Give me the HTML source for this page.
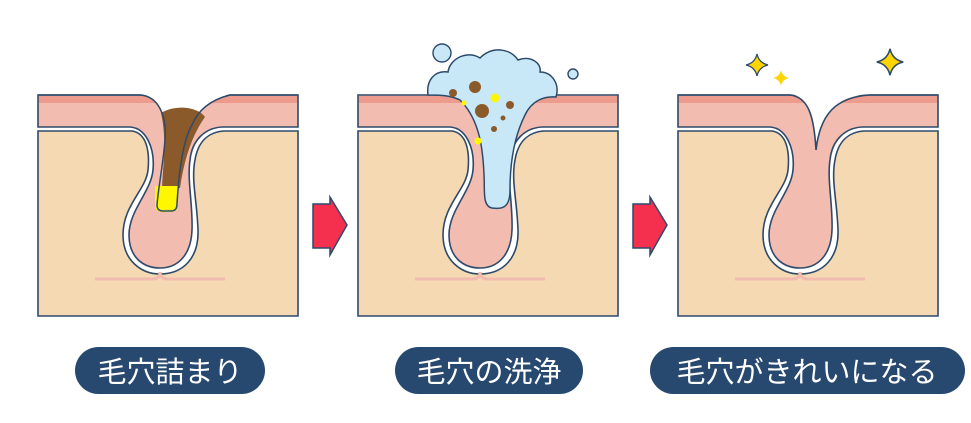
<!DOCTYPE html>
<html><head><meta charset="utf-8"><style>
html,body{margin:0;padding:0;background:#fff;width:971px;height:423px;overflow:hidden}
svg{display:block}
text{font-family:"Liberation Sans","Noto Sans CJK JP",sans-serif;fill:#fff;font-size:29px}
</style></head><body>
<svg width="971" height="423" viewBox="0 0 971 423" xmlns="http://www.w3.org/2000/svg">
<defs>
<g id="base">
  <path d="M38,131 H132 C146,133 150,150 148,170 C146,190 123,205 123,235 C123,261 142,274 160,274 C183,274 199,258 198,230 C197,200 191,180 195,160 C198,142 208,132 224,131 H298 V316 H38 Z" fill="#f5d9b3" stroke="#2d4a6b" stroke-width="1.6"/>
  <path d="M95,279 H152 Q160,279 160,272 Q160,279 168,279 H225" fill="none" stroke="#f2bbb0" stroke-width="3"/>
  <path d="M38,95 H298 V127 H222 C205,128 192,140 190,160 C187,180 193,205 192,230 C191,255 178,268 160,268 C143,268 129,257 129,235 C129,210 151,192 153,170 C155,148 146,128 130,127 H38 Z" fill="#f3bcb1" stroke="#2d4a6b" stroke-width="1.6"/>
  <rect x="39" y="96" width="258" height="7" fill="#ec9b8c"/>
</g>
<g id="arrow">
  <path d="M313,204 H330 V197 L347,225 L330,255 V248 H313 Z" fill="#f5304f" stroke="#2d4a6b" stroke-width="1.5"/>
</g>
<g id="spark">
  <path d="M0,-11 Q2,-2 11,0 Q2,2 0,11 Q-2,2 -11,0 Q-2,-2 0,-11Z"/>
</g>
</defs>

<!-- panel 1 -->
<use href="#base"/>
<path d="M140,94 C158,96 167,115 165,140 L192,125 C198,110 210,100 230,94 Z" fill="#fff"/>
<path d="M161,113 C176,104 198,107 205,117 C192,135 184,160 180,188 L162,188 C163,165 167,140 161,113 Z" fill="#8b5a2b"/>
<path d="M155,186 H178 V205 Q178,212 170,212 H162 Q155,212 155,205 Z" fill="#fff700"/>
<path d="M38,95 H140 C158,96 167,115 165,140 C163,165 158,190 157,205 Q157,211 163,211 H171 Q177,211 177,204 C179,170 183,140 192,125 C198,110 210,100 230,95 H298" fill="none" stroke="#2d4a6b" stroke-width="1.5"/>

<use href="#arrow"/>

<!-- panel 2 -->
<g transform="translate(320,0)">
  <use href="#base"/>
  <path d="M108,95 C106,80 115,70 128,72 C130,58 148,50 160,58 C172,46 190,48 198,60 C210,55 222,63 220,72 C232,72 240,84 236,97 C225,96 212,100 205,115 C195,135 190,160 190,190 C190,205 185,210 172,208 C162,206 165,190 164,175 C163,150 160,120 140,100 C130,95 118,95 108,95 Z" fill="#c8e8f8" stroke="#2d4a6b" stroke-width="1.5"/>
  <circle cx="122" cy="53" r="9" fill="#c8e8f8" stroke="#2d4a6b" stroke-width="1.4"/>
  <circle cx="253" cy="74" r="5" fill="#c8e8f8" stroke="#2d4a6b" stroke-width="1.4"/>
  <circle cx="155" cy="87" r="6" fill="#8b5a2b"/>
  <circle cx="162" cy="111" r="7" fill="#8b5a2b"/>
  <circle cx="133" cy="93" r="4" fill="#8b5a2b"/>
  <circle cx="190" cy="105" r="4" fill="#8b5a2b"/>
  <circle cx="183" cy="118" r="2.5" fill="#8b5a2b"/>
  <circle cx="174" cy="129" r="3" fill="#8b5a2b"/>
  <circle cx="175" cy="98" r="4.5" fill="#fff700"/>
  <circle cx="144" cy="103" r="2.5" fill="#fff700"/>
  <circle cx="158" cy="141" r="3.5" fill="#fff700"/>
</g>

<g transform="translate(320,0)"><use href="#arrow"/></g>

<!-- panel 3 -->
<g transform="translate(640,0)">
  <use href="#base"/>
  <path d="M150,94 C168,96 174,115 176,150 C180,115 195,96 230,94 Z" fill="#fff"/>
  <path d="M38,95 H150 C168,97 174,115 176,150 C180,115 195,97 230,95 H298" fill="none" stroke="#2d4a6b" stroke-width="1.6"/>
  <g fill="#ffd400" stroke="#2d4a6b" stroke-width="1.3">
    <use href="#spark" transform="translate(117,65)"/>
    <use href="#spark" transform="translate(250,62) scale(1.2)"/>
  </g>
  <use href="#spark" transform="translate(141,78) scale(0.7)" fill="#ffd400"/>
</g>

<!-- labels -->
<rect x="75" y="347" width="190" height="47" rx="23.5" fill="#27486f"/>
<text x="170" y="382" text-anchor="middle">毛穴詰まり</text>
<rect x="395" y="347" width="188" height="47" rx="23.5" fill="#27486f"/>
<text x="489" y="382" text-anchor="middle">毛穴の洗浄</text>
<rect x="650" y="347" width="315" height="47" rx="23.5" fill="#27486f"/>
<text x="807" y="382" text-anchor="middle">毛穴がきれいになる</text>
</svg>
</body></html>
